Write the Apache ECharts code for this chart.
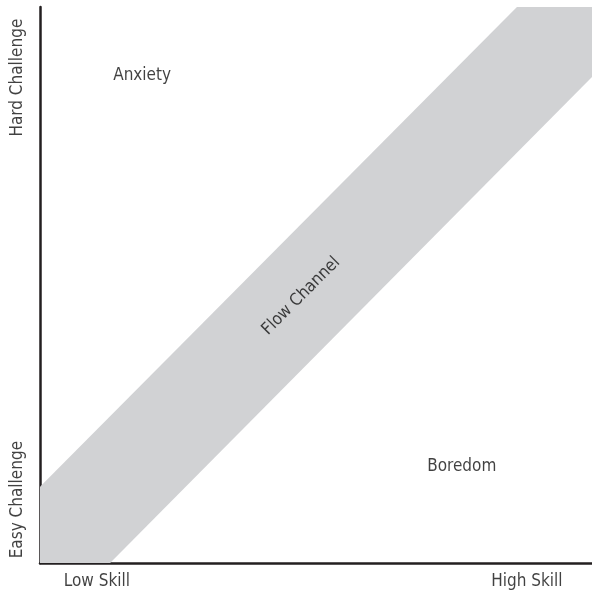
<!DOCTYPE html>
<html><head><meta charset="utf-8">
<script src="https://cdn.jsdelivr.net/npm/echarts@6/dist/echarts.min.js"></script>
<style>html,body{margin:0;padding:0;background:#fff}#c{width:592px;height:597px}</style>
</head><body><div id="c"></div>
<script>
// Flow channel polygon (skill %, challenge %)
const bandX = [0, 0, 12.7, 100, 100, 86.4];
const bandY = [13.7, 0, 0, 87.4, 100, 100];
// Region labels
const regionNames = ['Anxiety', 'Boredom', 'Flow Channel'];
const regionX = [18.5, 76.4, 47.3];
const regionY = [87.6, 17.3, 48.0];
const regionRotate = [0, 0, 45];
// Axis end labels
const axisNames = ['Low Skill', 'High Skill', 'Easy Challenge', 'Hard Challenge'];
const axisX = [10.3, 88.2, -4.0, -4.0];
const axisY = [-3.3, -3.3, 11.4, 87.3];
const axisRotate = [0, 0, 90, 90];

const FONT = '"Liberation Sans Narrow", "DejaVu Sans Condensed", sans-serif';
const chart = echarts.init(document.getElementById('c'));
const band = bandX.map((x, i) => [x, bandY[i]]);
function textData(names, xs, ys, rots) {
  return names.map((n, i) => ({ name: n, value: [xs[i], ys[i]], label: { rotate: rots[i] } }));
}
chart.setOption({
  animation: false,
  grid: { left: 40, right: 0, top: 7, bottom: 34 },
  xAxis: { type: 'value', min: 0, max: 100, axisLine: { show: true, lineStyle: { color: '#231f20', width: 2.5 } },
    axisTick: { show: false }, axisLabel: { show: false }, splitLine: { show: false } },
  yAxis: { type: 'value', min: 0, max: 100, axisLine: { show: true, lineStyle: { color: '#231f20', width: 2.5 } },
    axisTick: { show: false }, axisLabel: { show: false }, splitLine: { show: false } },
  series: [
    {
      type: 'custom', silent: true, clip: true, z: 1,
      data: [0],
      renderItem: function (params, api) {
        const pts = band.map(p => api.coord(p));
        return { type: 'polygon', shape: { points: pts }, style: { fill: '#d1d2d4' } };
      }
    },
    {
      type: 'scatter', symbolSize: 0, clip: false, silent: true, z: 5,
      data: textData(regionNames, regionX, regionY, regionRotate)
        .concat(textData(axisNames, axisX, axisY, axisRotate)),
      label: { show: true, position: 'inside', formatter: '{b}', color: '#111',
        fontFamily: FONT, fontSize: 17 }
    }
  ]
});
</script></body></html>
